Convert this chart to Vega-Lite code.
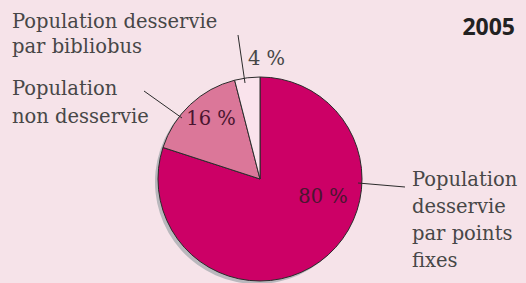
{
  "$schema": "https://vega.github.io/schema/vega-lite/v6.json",
  "autosize": "none",
  "width": 520,
  "height": 208,
  "padding": {"left": 0, "top": 75, "right": 6, "bottom": 0},
  "background": "#F6E3E9",
  "config": {"view": {"stroke": null}},
  "datasets": {
    "parts": [
      {"part": "Population desservie par points fixes", "value": 80, "ord": 1},
      {"part": "Population non desservie", "value": 16, "ord": 2},
      {"part": "Population desservie par bibliobus", "value": 4, "ord": 3}
    ],
    "labels": [
      {"kind": "label", "text": "Population desservie", "x": -248, "y": 151.5},
      {"kind": "label", "text": "par bibliobus", "x": -248, "y": 125.7},
      {"kind": "label", "text": "Population", "x": -248, "y": 84},
      {"kind": "label", "text": "non desservie", "x": -248, "y": 56.3},
      {"kind": "label", "text": "4 %", "x": -12, "y": 114},
      {"kind": "label", "text": "Population", "x": 152, "y": -7},
      {"kind": "label", "text": "desservie", "x": 152, "y": -34},
      {"kind": "label", "text": "par points", "x": 152, "y": -61},
      {"kind": "label", "text": "fixes", "x": 152, "y": -88},
      {"kind": "pct", "text": "16 %", "x": -49, "y": 54},
      {"kind": "pct", "text": "80 %", "x": 63, "y": -24},
      {"kind": "year", "text": "2005", "x": 255, "y": 144}
    ],
    "leaders": [
      {"x": -22, "y": 144, "x2": -15, "y2": 96},
      {"x": -116, "y": 88, "x2": -78, "y2": 61},
      {"x": 98, "y": -4, "x2": 145, "y2": -8}
    ]
  },
  "layer": [
    {
      "data": {"name": "parts"},
      "mark": {"type": "arc", "outerRadius": 102, "xOffset": -3, "yOffset": 3, "color": "#B9B8BD"},
      "encoding": {
        "theta": {"field": "value", "type": "quantitative", "stack": true},
        "order": {"field": "ord"}
      }
    },
    {
      "data": {"name": "parts"},
      "mark": {"type": "arc", "outerRadius": 102, "stroke": "#2b2b2b", "strokeWidth": 1},
      "encoding": {
        "theta": {"field": "value", "type": "quantitative", "stack": true},
        "order": {"field": "ord"},
        "color": {
          "field": "part",
          "type": "nominal",
          "legend": null,
          "scale": {
            "domain": ["Population desservie par points fixes", "Population non desservie", "Population desservie par bibliobus"],
            "range": ["#CC0066", "#DB7799", "#FAE3EC"]
          }
        }
      }
    },
    {
      "data": {"name": "leaders"},
      "mark": {"type": "rule", "color": "#2b2b2b", "strokeWidth": 1},
      "encoding": {
        "x": {"field": "x", "type": "quantitative", "scale": {"domain": [-260, 260], "nice": false, "zero": false}, "axis": null},
        "y": {"field": "y", "type": "quantitative", "scale": {"domain": [-104, 104], "nice": false, "zero": false}, "axis": null},
        "x2": {"field": "x2"},
        "y2": {"field": "y2"}
      }
    },
    {
      "data": {"name": "labels"},
      "transform": [{"filter": "datum.kind === 'label'"}],
      "mark": {"type": "text", "align": "left", "baseline": "alphabetic", "font": "DejaVu Serif", "fontSize": 19.5, "color": "#474747"},
      "encoding": {
        "x": {"field": "x", "type": "quantitative", "scale": {"domain": [-260, 260], "nice": false, "zero": false}, "axis": null},
        "y": {"field": "y", "type": "quantitative", "scale": {"domain": [-104, 104], "nice": false, "zero": false}, "axis": null},
        "text": {"field": "text"}
      }
    },
    {
      "data": {"name": "labels"},
      "transform": [{"filter": "datum.kind === 'pct'"}],
      "mark": {"type": "text", "align": "center", "baseline": "alphabetic", "font": "DejaVu Serif", "fontSize": 19.5, "color": "#4a1530"},
      "encoding": {
        "x": {"field": "x", "type": "quantitative", "scale": {"domain": [-260, 260], "nice": false, "zero": false}, "axis": null},
        "y": {"field": "y", "type": "quantitative", "scale": {"domain": [-104, 104], "nice": false, "zero": false}, "axis": null},
        "text": {"field": "text"}
      }
    },
    {
      "data": {"name": "labels"},
      "transform": [{"filter": "datum.kind === 'year'"}],
      "mark": {"type": "text", "align": "right", "baseline": "alphabetic", "font": "Open Sans", "fontWeight": "bold", "fontSize": 23, "color": "#222222"},
      "encoding": {
        "x": {"field": "x", "type": "quantitative", "scale": {"domain": [-260, 260], "nice": false, "zero": false}, "axis": null},
        "y": {"field": "y", "type": "quantitative", "scale": {"domain": [-104, 104], "nice": false, "zero": false}, "axis": null},
        "text": {"field": "text"}
      }
    }
  ]
}
